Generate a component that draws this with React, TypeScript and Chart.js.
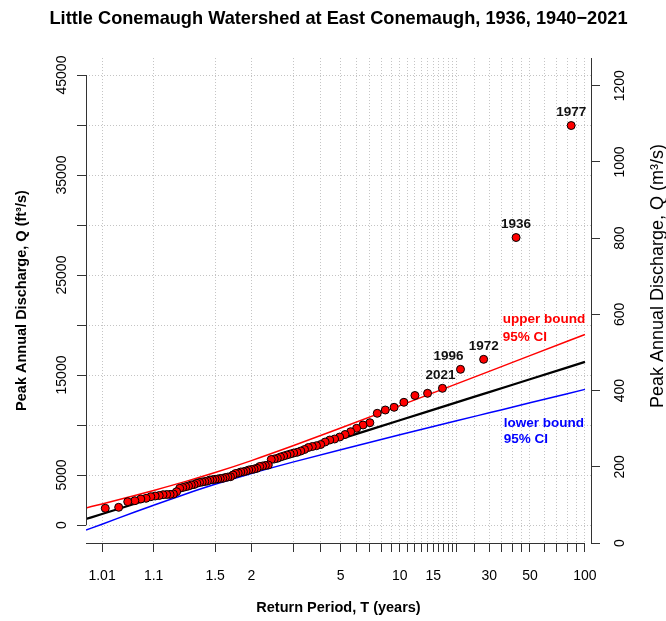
import React, { useEffect, useRef } from 'react';
import { Chart, registerables } from 'chart.js';

Chart.register(...registerables);

const CHART_TITLE = 'Little Conemaugh Watershed at East Conemaugh, 1936, 1940\u22122021';
const X_TITLE = 'Return Period, T (years)';
const Y_TITLE = 'Peak Annual Discharge, Q (ft\u00B3/s)';
const Y2_TITLE = 'Peak Annual Discharge, Q (m\u00B3/s)';

// Annual peak discharges (ft3/s), ranked from largest to smallest
const PEAK_Q = [
  39950, 28750, 16570, 15570, 13670, 13170, 12950, 12270, 11770, 11500,
  11170, 10230, 10000, 9670, 9330, 9050, 8800, 8600, 8500, 8300,
  8050, 7930, 7850, 7750, 7550, 7400, 7270, 7200, 7100, 7000,
  6900, 6800, 6670, 6600, 6550, 6000, 5950, 5900, 5850, 5670,
  5600, 5550, 5500, 5400, 5330, 5300, 5200, 5150, 5000, 4830,
  4800, 4750, 4670, 4650, 4600, 4570, 4530, 4500, 4400, 4350,
  4300, 4250, 4170, 4050, 4000, 3900, 3830, 3750, 3670, 3330,
  3100, 3060, 3050, 3030, 2950, 2900, 2830, 2670, 2600, 2430,
  2330, 1770, 1670,
];
// years of the labelled largest peaks (ranks 1..5)
const PEAK_LABELS = ['1977', '1936', '1972', '1996', '2021'];

// fitted frequency curve and 95% confidence bounds
const CURVE_T = [1.0035, 1.01, 1.05, 1.1, 1.25, 1.5, 2, 3, 5, 10, 20, 30, 50, 100];
const FIT_Q = [600, 1094, 2126, 2717, 3708, 4657, 5800, 7131, 8615, 10477, 12265, 13292, 14579, 16312];
const UPPER_Q = [1708, 2107, 2957, 3458, 4336, 5245, 6442, 7947, 9697, 11938, 14111, 15364, 16937, 19059];
const LOWER_Q = [-508, 81, 1295, 1976, 3080, 4069, 5158, 6315, 7533, 9016, 10419, 11220, 12221, 13565];

// axes
const X_TICKS = [1.01, 1.1, 1.5, 2, 3, 4, 5, 6, 7, 8, 9, 10, 11, 12, 13, 14, 15, 16, 17, 18, 19, 20, 25, 30, 35, 40, 45, 50, 60, 70, 80, 90, 100];
const X_LABELS = [1.01, 1.1, 1.5, 2, 5, 10, 15, 30, 50, 100];
const X_RANGE_T = [1.0035, 107.9];
const Y_TICKS = [0, 5000, 10000, 15000, 20000, 25000, 30000, 35000, 40000, 45000];
const Y_LABELS = [0, 5000, 15000, 25000, 35000, 45000];
const Y_RANGE = [-1800, 46700];
const Y2_TICKS = [0, 200, 400, 600, 800, 1000, 1200];
const Y2_RANGE = [0, 1272.7];

const BOUND_NOTES = [
  { lines: ['upper bound', '95% CI'], T: 35.5, Q: [20570, 18770], color: '#ff0000' },
  { lines: ['lower bound', '95% CI'], T: 36, Q: [10170, 8570], color: '#0000ff' },
];

const FONT = "'Liberation Sans', Arial, Helvetica, sans-serif";
const AXIS = '#333333';
const GRID = '#c4c4c4';

const gumbel = (T: number) => -Math.log(-Math.log(1 - 1 / T));

export default function App() {
  const ref = useRef<HTMLCanvasElement | null>(null);

  useEffect(() => {
    const canvas = ref.current;
    if (!canvas) return;
    Chart.defaults.font.family = FONT;
    const n = PEAK_Q.length;
    const observed = PEAK_Q.map((q, i) => ({ x: gumbel((n + 1) / (i + 1)), y: q }));
    const curve = (vals: number[]) => CURVE_T.map((t, i) => ({ x: gumbel(t), y: vals[i] }));

    const overlay = {
      id: 'overlay',
      afterDraw(chart: any) {
        const { ctx, chartArea, scales } = chart;
        const xs = scales.x;
        const ys = scales.y;
        ctx.save();
        // axis lines (R style: spanning the ticks)
        ctx.strokeStyle = AXIS;
        ctx.lineWidth = 1;
        ctx.setLineDash([]);
        ctx.beginPath();
        const lx = Math.round(chartArea.left) + 0.5;
        ctx.moveTo(lx, ys.getPixelForValue(Y_TICKS[0]));
        ctx.lineTo(lx, ys.getPixelForValue(Y_TICKS[Y_TICKS.length - 1]));
        const by = Math.round(chartArea.bottom) + 0.5;
        ctx.moveTo(chartArea.left, by);
        ctx.lineTo(xs.getPixelForValue(gumbel(X_TICKS[X_TICKS.length - 1])), by);
        ctx.stroke();

        // year labels
        ctx.fillStyle = '#111';
        ctx.font = `bold 13.5px ${FONT}`;
        ctx.textAlign = 'center';
        ctx.textBaseline = 'middle';
        const nudge: Record<string, number> = { '1996': -12, '2021': -2 };
        PEAK_LABELS.forEach((lab, i) => {
          const px = xs.getPixelForValue(observed[i].x) + (nudge[lab] || 0);
          const py = ys.getPixelForValue(observed[i].y) - 13;
          ctx.fillText(lab, px, py);
        });

        // bound notes
        ctx.textAlign = 'left';
        BOUND_NOTES.forEach((note) => {
          ctx.fillStyle = note.color;
          const px = xs.getPixelForValue(gumbel(note.T));
          note.lines.forEach((line, j) => {
            ctx.fillText(line, px, ys.getPixelForValue(note.Q[j]));
          });
        });

        // right axis title (reads bottom to top)
        ctx.fillStyle = '#000';
        ctx.font = `18px ${FONT}`;
        ctx.textAlign = 'center';
        ctx.translate(chartArea.right + 67, 276);
        ctx.rotate(-Math.PI / 2);
        ctx.fillText(Y2_TITLE, 0, 0);
        ctx.restore();
      },
    };

    const chart = new Chart(canvas, {
      type: 'scatter',
      data: {
        datasets: [
          {
            type: 'scatter',
            label: 'Observed peaks',
            data: observed,
            xAxisID: 'x',
            yAxisID: 'y',
            pointRadius: 4,
            pointBackgroundColor: '#ff0000',
            pointBorderColor: '#000000',
            pointBorderWidth: 1,
            order: 0,
          },
          {
            type: 'line',
            label: 'Fitted',
            data: curve(FIT_Q),
            xAxisID: 'x',
            yAxisID: 'y',
            borderColor: '#000000',
            borderWidth: 2.2,
            pointRadius: 0,
            cubicInterpolationMode: 'monotone',
            order: 1,
          },
          {
            type: 'line',
            label: 'Upper bound 95% CI',
            data: curve(UPPER_Q),
            xAxisID: 'x',
            yAxisID: 'y',
            borderColor: '#ff0000',
            borderWidth: 1.5,
            pointRadius: 0,
            cubicInterpolationMode: 'monotone',
            order: 2,
          },
          {
            type: 'line',
            label: 'Lower bound 95% CI',
            data: curve(LOWER_Q),
            xAxisID: 'x',
            yAxisID: 'y',
            borderColor: '#0000ff',
            borderWidth: 1.5,
            pointRadius: 0,
            cubicInterpolationMode: 'monotone',
            order: 3,
          },
        ] as any,
      },
      options: {
        animation: false,
        responsive: false,
        devicePixelRatio: 1,
        events: [],
        layout: { padding: { left: 11, right: 0, top: 0, bottom: 0 } },
        plugins: {
          legend: { display: false },
          tooltip: { enabled: false },
          title: {
            display: true,
            text: CHART_TITLE,
            color: '#000',
            font: { size: 18.2, weight: 'bold' },
            padding: { top: 8, bottom: 28.2 },
          },
        },
        scales: {
          x: {
            type: 'linear',
            position: 'bottom',
            min: gumbel(X_RANGE_T[0]),
            max: gumbel(X_RANGE_T[1]),
            afterBuildTicks: (s: any) => {
              s.ticks = X_TICKS.map((t) => ({ value: gumbel(t) }));
            },
            afterFit: (s: any) => {
              s.height = 78;
            },
            ticks: {
              autoSkip: false,
              maxRotation: 0,
              minRotation: 0,
              padding: 15.5,
              color: '#000',
              font: { size: 14 },
              callback: (_v: any, i: number) => (X_LABELS.includes(X_TICKS[i]) ? String(X_TICKS[i]) : ''),
            },
            grid: {
              color: GRID,
              lineWidth: 1,
              drawTicks: true,
              tickLength: 9,
              tickColor: AXIS,
              tickWidth: 1,
              tickBorderDash: [],
            },
            border: { display: false, dash: [1, 2] },
            title: {
              display: true,
              text: X_TITLE,
              color: '#000',
              font: { size: 14.5, weight: 'bold' },
              padding: { top: 0, bottom: 4.3 },
            },
          },
          y: {
            type: 'linear',
            position: 'left',
            min: Y_RANGE[0],
            max: Y_RANGE[1],
            afterBuildTicks: (s: any) => {
              s.ticks = Y_TICKS.map((v) => ({ value: v }));
            },
            afterFit: (s: any) => {
              s.width = 75;
            },
            ticks: {
              autoSkip: false,
              minRotation: 90,
              maxRotation: 90,
              crossAlign: 'center',
              padding: -4.5,
              color: '#000',
              font: { size: 14 },
              callback: (v: any) => (Y_LABELS.includes(v) ? String(v) : ''),
            },
            grid: {
              color: GRID,
              lineWidth: 1,
              drawTicks: true,
              tickLength: 9,
              tickColor: AXIS,
              tickWidth: 1,
              tickBorderDash: [],
            },
            border: { display: false, dash: [1, 2] },
            title: {
              display: true,
              text: Y_TITLE,
              color: '#000',
              font: { size: 14.5, weight: 'bold' },
              padding: { top: 2.3, bottom: 0 },
            },
          },
          y2: {
            type: 'linear',
            position: 'right',
            min: Y2_RANGE[0],
            max: Y2_RANGE[1],
            afterBuildTicks: (s: any) => {
              s.ticks = Y2_TICKS.map((v) => ({ value: v }));
            },
            afterFit: (s: any) => {
              s.width = 75;
            },
            ticks: {
              autoSkip: false,
              minRotation: 90,
              maxRotation: 90,
              crossAlign: 'center',
              padding: 4.4,
              color: '#000',
              font: { size: 14 },
              callback: (v: any) => String(v),
            },
            grid: {
              drawOnChartArea: false,
              drawTicks: true,
              tickLength: 9,
              tickColor: AXIS,
              tickWidth: 1,
            },
            border: { display: true, color: AXIS, width: 1 },
          },
        },
      } as any,
      plugins: [overlay],
    });

    return () => chart.destroy();
  }, []);

  return (
    <div style={{ position: 'fixed', left: 0, top: 0, width: 666, height: 621, background: '#fff' }}>
      <canvas ref={ref} width={666} height={621} style={{ display: 'block' }} />
    </div>
  );
}
